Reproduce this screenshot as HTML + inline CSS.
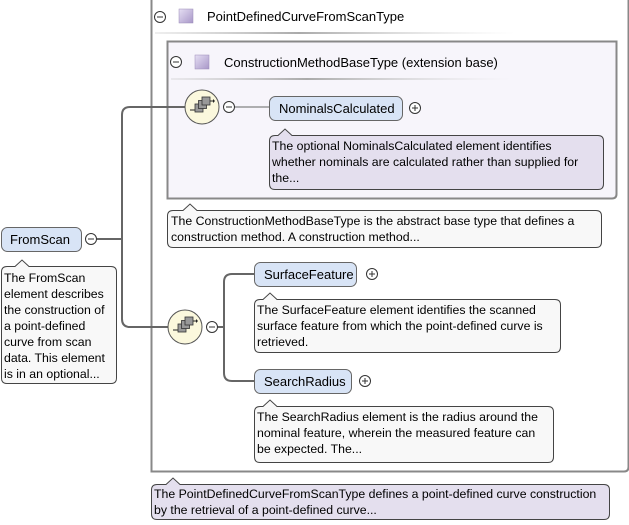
<!DOCTYPE html>
<html><head><meta charset="utf-8"><style>
html,body{margin:0;padding:0;background:#fff;width:629px;height:525px;overflow:hidden}
svg text{font-family:"Liberation Sans",sans-serif;font-size:12.3px;fill:#000}
svg text.l{font-size:13px}
</style></head><body>
<svg width="629" height="525" viewBox="0 0 629 525" xmlns="http://www.w3.org/2000/svg">
<defs>
<linearGradient id="hl" x1="0" x2="1"><stop offset="0" stop-color="#c8c8c8" stop-opacity="0.3"/><stop offset="0.4" stop-color="#aaa"/><stop offset="1" stop-color="#ddd" stop-opacity="0"/></linearGradient>
<linearGradient id="sq" x1="0" y1="0" x2="1" y2="1"><stop offset="0" stop-color="#e6dff3"/><stop offset="1" stop-color="#a897c8"/></linearGradient>
<g id="seq">
<circle r="17" fill="#fbf8dd" stroke="#555" stroke-width="1"/>
<line x1="-12" y1="3" x2="-6" y2="3" stroke="#222"/>
<rect x="-7" y="-3" width="8" height="8" fill="#999" stroke="#333" stroke-width="0.8"/>
<rect x="-3.5" y="-6.5" width="8" height="8" fill="#999" stroke="#333" stroke-width="0.8"/>
<rect x="0" y="-10" width="8" height="8" fill="#999" stroke="#333" stroke-width="0.8"/>
<line x1="8" y1="-6" x2="12" y2="-6" stroke="#222"/><path d="M11,-8 L13,-6 L11,-4z" fill="#222"/>
</g>
<g id="minus"><circle r="5.5" fill="#fff" stroke="#333"/><line x1="-3" y1="0" x2="3" y2="0" stroke="#333"/></g>
<g id="plus"><circle r="5.5" fill="#fff" stroke="#333"/><line x1="-3" y1="0" x2="3" y2="0" stroke="#333"/><line x1="0" y1="-3" x2="0" y2="3" stroke="#333"/></g>
</defs>

<path d="M151.5,0 V471.5 H624 Q628.5,471.5 628.5,467 V0" fill="#fff" stroke="#888" stroke-width="2"/>
<rect x="155" y="32" width="360" height="2" fill="url(#hl)"/>
<use href="#minus" x="160" y="17"/>
<rect x="179" y="9" width="14" height="14" fill="url(#sq)" stroke="#9a8cb8" stroke-width="0.5"/>
<text class="l" x="207" y="21">PointDefinedCurveFromScanType</text>

<path d="M167.5,41.5 H616.5 V194 Q616.5,198.5 612,198.5 H167.5 Z" fill="#f7f5fb" stroke="#888" stroke-width="2"/>
<rect x="171" y="78" width="340" height="2" fill="url(#hl)"/>
<use href="#minus" x="176" y="62"/>
<rect x="195" y="55" width="14" height="14" fill="url(#sq)" stroke="#9a8cb8" stroke-width="0.5"/>
<text class="l" x="224" y="67">ConstructionMethodBaseType (extension base)</text>

<g stroke="#666" stroke-width="2" fill="none">
<path d="M97,239 H122"/>
<path d="M186,107 H130 Q122,107 122,115 V319 Q122,327 130,327 H169"/>
</g>
<g stroke="#666" stroke-width="1" fill="none">
<path d="M235,107 H269"/>
</g>
<g stroke="#666" stroke-width="2" fill="none">
<path d="M218,327 H224"/>
<path d="M254,274 H232 Q224,274 224,282 V373 Q224,381 232,381 H254"/>
</g>

<use href="#seq" x="202" y="107"/>
<use href="#minus" x="229" y="107"/>
<use href="#seq" x="185" y="327"/>
<use href="#minus" x="212" y="327"/>

<rect x="269.5" y="96.5" width="133" height="24" rx="6" fill="#d8e4f6" stroke="#666"/>
<text class="l" x="279" y="113">NominalsCalculated</text>
<use href="#plus" x="415" y="108"/>
<path d="M269.5,141 Q269.5,135.5 275,135.5 H278 L285,129 L292,135.5 H598 Q603.5,135.5 603.5,141 V184 Q603.5,189.5 598,189.5 H275 Q269.5,189.5 269.5,184 Z" fill="#e4dfee" stroke="#444"/>
<text x="272" y="150">The optional NominalsCalculated element identifies</text>
<text x="272" y="166">whether nominals are calculated rather than supplied for</text>
<text x="272" y="182">the...</text>

<path d="M167.5,216 Q167.5,210.5 173,210.5 H183 L190,204 L197,210.5 H596 Q601.5,210.5 601.5,216 V242 Q601.5,247.5 596,247.5 H173 Q167.5,247.5 167.5,242 Z" fill="#f8f8f8" stroke="#444"/>
<text x="171" y="225">The ConstructionMethodBaseType is the abstract base type that defines a</text>
<text x="171" y="241">construction method. A construction method...</text>

<rect x="1.5" y="227.5" width="80" height="24" rx="6" fill="#d8e4f6" stroke="#666"/>
<text class="l" x="10" y="244">FromScan</text>
<use href="#minus" x="91" y="239"/>
<path d="M1.5,272 Q1.5,266.5 7,266.5 H15 L22,260 L29,266.5 H111 Q116.5,266.5 116.5,272 V378 Q116.5,383.5 111,383.5 H7 Q1.5,383.5 1.5,378 Z" fill="#f8f8f8" stroke="#444"/>
<text x="4" y="282">The FromScan</text>
<text x="4" y="298">element describes</text>
<text x="4" y="314">the construction of</text>
<text x="4" y="330">a point-defined</text>
<text x="4" y="346">curve from scan</text>
<text x="4" y="362">data. This element</text>
<text x="4" y="378">is in an optional...</text>

<rect x="254.5" y="262.5" width="102" height="24" rx="6" fill="#d8e4f6" stroke="#666"/>
<text class="l" x="264" y="279">SurfaceFeature</text>
<use href="#plus" x="372" y="274"/>
<path d="M254.5,305 Q254.5,299.5 260,299.5 H263 L270,293 L277,299.5 H555 Q560.5,299.5 560.5,305 V347 Q560.5,352.5 555,352.5 H260 Q254.5,352.5 254.5,347 Z" fill="#f8f8f8" stroke="#444"/>
<text x="257" y="314">The SurfaceFeature element identifies the scanned</text>
<text x="257" y="330">surface feature from which the point-defined curve is</text>
<text x="257" y="346">retrieved.</text>

<rect x="254.5" y="369.5" width="97" height="24" rx="6" fill="#d8e4f6" stroke="#666"/>
<text class="l" x="264" y="386">SearchRadius</text>
<use href="#plus" x="365" y="381"/>
<path d="M254.5,412 Q254.5,406.5 260,406.5 H263 L270,400 L277,406.5 H548 Q553.5,406.5 553.5,412 V457 Q553.5,462.5 548,462.5 H260 Q254.5,462.5 254.5,457 Z" fill="#f8f8f8" stroke="#444"/>
<text x="257" y="421">The SearchRadius element is the radius around the</text>
<text x="257" y="437">nominal feature, wherein the measured feature can</text>
<text x="257" y="453">be expected. The...</text>

<path d="M151.5,490 Q151.5,484.5 157,484.5 H166 L173,478 L180,484.5 H604 Q609.5,484.5 609.5,490 V514 Q609.5,519.5 604,519.5 H157 Q151.5,519.5 151.5,514 Z" fill="#e4dfee" stroke="#444"/>
<text x="154" y="498">The PointDefinedCurveFromScanType defines a point-defined curve construction</text>
<text x="154" y="514">by the retrieval of a point-defined curve...</text>
</svg>
</body></html>
